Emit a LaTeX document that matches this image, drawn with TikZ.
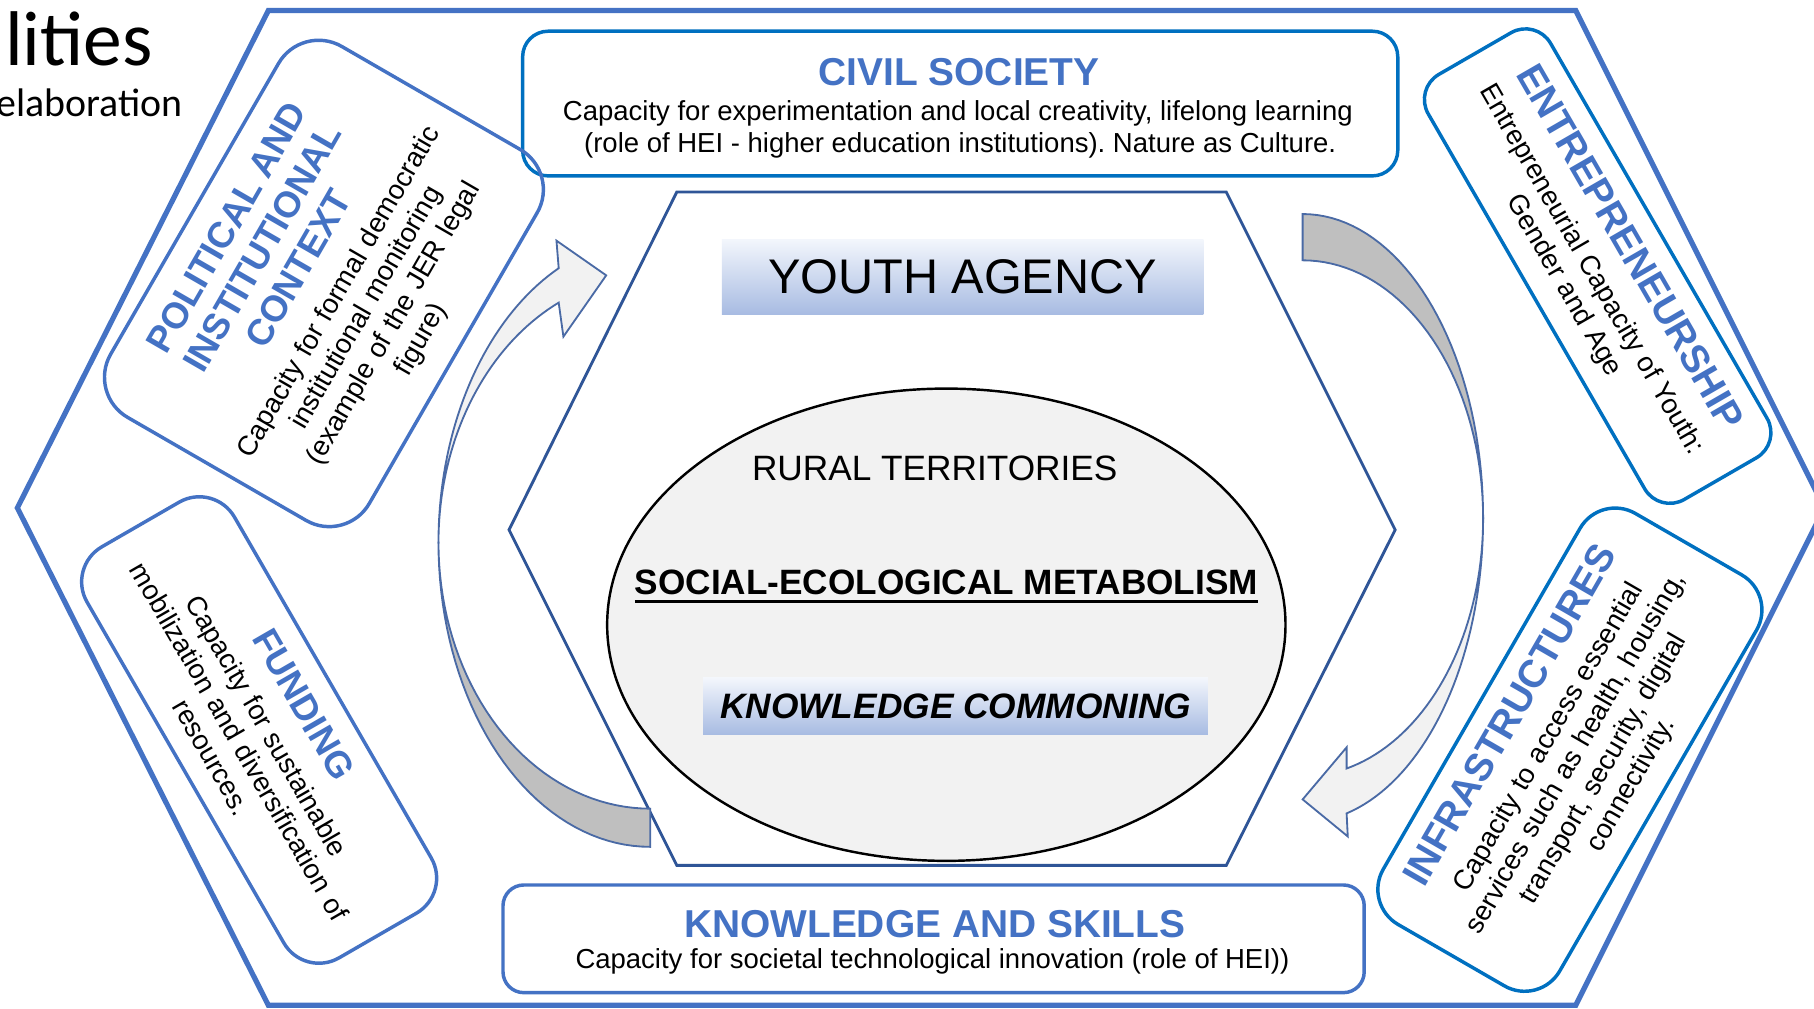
\documentclass[tikz,border=0pt]{standalone}
\usepackage{fontspec}
\setmainfont{Liberation Sans}
\newfontfamily\calibrifont{Carlito}
\usetikzlibrary{calc,shapes.geometric}
\definecolor{hexblue}{HTML}{4472C4}
\definecolor{boxblue}{HTML}{0070C0}
\definecolor{innerblue}{HTML}{2F5597}
\definecolor{arrline}{HTML}{4A6AA5}
\definecolor{arrgray}{HTML}{BFBFBF}
\definecolor{arrlight}{HTML}{F2F2F2}
\definecolor{ellfill}{HTML}{F2F2F2}
\definecolor{shadetop}{HTML}{F3F6FC}
\definecolor{shadebot}{HTML}{A7BBE2}
\newcommand{\ttl}[1]{{\fontsize{9.6}{10.7}\selectfont\bfseries\color{hexblue}#1}}
\newcommand{\ttlsmall}[1]{{\fontsize{9.0}{10.2}\selectfont\bfseries\color{hexblue}#1}}
\frenchspacing
\begin{document}
\begin{tikzpicture}[x=0.01cm,y=-0.01cm,
  txt/.style={inner sep=0pt, outer sep=0pt},
  body/.style={txt, font=\fontsize{6.76}{7.77}\selectfont},
  head/.style={txt, font=\fontsize{9.56}{10.7}\selectfont\bfseries, text=hexblue},
  rbox/.style={draw=#1, line width=0.85pt, inner sep=0pt, align=center, font=\fontsize{6.76}{7.77}\selectfont},
  gradbox/.style={inner sep=0pt, top color=shadetop, bottom color=shadebot},
  arrowgray/.style={draw=arrline, line width=0.45pt, fill=arrgray},
  arrowlight/.style={draw=arrline, line width=0.45pt, fill=arrlight},
]
\useasboundingbox (0,0) rectangle (1568,872);
\clip (0,0) rectangle (1568,872);
\fill[white] (0,0) rectangle (1568,872);

% title fragments
\node[txt, anchor=base east, font=\calibrifont\fontsize{19.06}{22}\selectfont] (mainttl) at (132,57) {lities};
\node[txt, anchor=base east, font=\calibrifont\fontsize{9.8}{11}\selectfont] (subttl) at (158,101) {elaboration};

% outer hexagon
\draw[hexblue, line width=1.28pt] (232,9) -- (1362,9) -- (1577,439) -- (1362,869) -- (232,869) -- (15,439) -- cycle;

% inner hexagon
\draw[innerblue, line width=0.7pt] (585,166) -- (1060,166) -- (1206,458) -- (1060,748) -- (585,748) -- (440,458) -- cycle;

% ellipse
\node[ellipse, draw=black, line width=0.6pt, fill=ellfill, minimum width=5.86cm, minimum height=4.08cm, inner sep=0pt] (terr) at (818,540) {};

% left curved arrow
\filldraw[arrowgray] plot[domain=90:180, samples=40] ({562+183*cos(\x)},{469+263*sin(\x)}) -- plot[domain=180:90, samples=40] ({562+183*cos(\x)},{469+230*sin(\x)}) -- cycle;
\filldraw[arrowlight] plot[domain=180:244.4, samples=40] ({562+183*cos(\x)},{469+263*sin(\x)}) -- (481,208) -- (524,238) -- (487,291) -- plot[domain=244.4:180, samples=40] ({562+183*cos(\x)},{469+230*sin(\x)}) -- cycle;

% right curved arrow
\filldraw[arrowgray] plot[domain=-90:0, samples=40] ({1126+156*cos(\x)},{448+263*sin(\x)}) -- plot[domain=0:-90, samples=40] ({1126+156*cos(\x)},{448+223*sin(\x)}) -- cycle;
\filldraw[arrowlight] plot[domain=0:75.9, samples=40] ({1126+156*cos(\x)},{448+263*sin(\x)}) -- (1165,723) -- (1126,691) -- (1164,646) -- plot[domain=75.9:0, samples=40] ({1126+156*cos(\x)},{448+223*sin(\x)}) -- cycle;

% civil society
\node[rbox=boxblue, rounded corners=0.22cm, minimum width=7.56cm, minimum height=1.25cm] (civil) at (830,89.5) {};
\node[head, anchor=base] (civilT) at (829,74) {CIVIL SOCIETY};
\node[body, anchor=base] (civilB1) at (828,104) {Capacity for experimentation and local creativity, lifelong learning};
\node[body, anchor=base] (civilB2) at (830,132) {(role of HEI - higher education institutions). Nature as Culture.};

% knowledge and skills
\node[rbox=hexblue, rounded corners=0.18cm, minimum width=7.44cm, minimum height=0.93cm] (know) at (807,811.5) {};
\node[head, anchor=base] (knowT) at (808,810) {KNOWLEDGE AND SKILLS};
\node[body, anchor=base] (knowB) at (806,837) {Capacity for societal technological innovation (role of HEI))};

% youth agency
\node[gradbox, minimum width=4.16cm, minimum height=0.65cm, font=\fontsize{11.95}{14}\selectfont] (youth) at (832,239.5) {YOUTH AGENCY};

% inside ellipse
\node[txt, anchor=base, font=\fontsize{8.66}{10}\selectfont] (rural) at (808,415) {RURAL TERRITORIES};
\node[txt, anchor=base, font=\fontsize{8.65}{10}\selectfont\bfseries] (sem) at (818,514) {SOCIAL-ECOLOGICAL METABOLISM};
\draw[line width=0.6pt] ($(sem.base west)+(0,6)$) -- ($(sem.base east)+(0,6)$);
\node[gradbox, minimum width=4.36cm, minimum height=0.49cm, font=\fontsize{8.68}{10}\selectfont\bfseries\itshape] (common) at (826,610.5) {KNOWLEDGE COMMONING};

% rotated boxes
\node[rbox=hexblue, rotate=60, rounded corners=0.4cm, minimum width=3.7cm, minimum height=2.58cm, text width=3.4cm] (pol) at (280,245) {\ttlsmall{POLITICAL AND}\\[2.4pt]\ttlsmall{INSTITUTIONAL}\\[2.4pt]\ttlsmall{CONTEXT}\\[2.6pt]Capacity for formal democratic\\institutional monitoring\\(example of the JER legal\\figure)};
\node[rbox=boxblue, rotate=-60, rounded corners=0.25cm, minimum width=4.24cm, minimum height=1.22cm, text width=4.0cm] (ent) at (1381,230) {\ttl{ENTREPRENEURSHIP}\\[2.0pt]Entrepreneurial Capacity of Youth:\\Gender and Age};
\node[rbox=boxblue, rotate=60, rounded corners=0.35cm, minimum width=4.1cm, minimum height=1.76cm, text width=3.9cm] (inf) at (1357,648) {\ttl{INFRASTRUCTURES}\\[2.0pt]Capacity to access essential\\services such as health, housing,\\transport, security, digital\\connectivity.};
\node[rbox=hexblue, rotate=-60, rounded corners=0.35cm, minimum width=4.1cm, minimum height=1.47cm, text width=3.9cm] (fund) at (224,631) {\ttlsmall{FUNDING}\\[2.0pt]Capacity for sustainable\\mobilization and diversification of\\resources.};
\end{tikzpicture}
\end{document}
